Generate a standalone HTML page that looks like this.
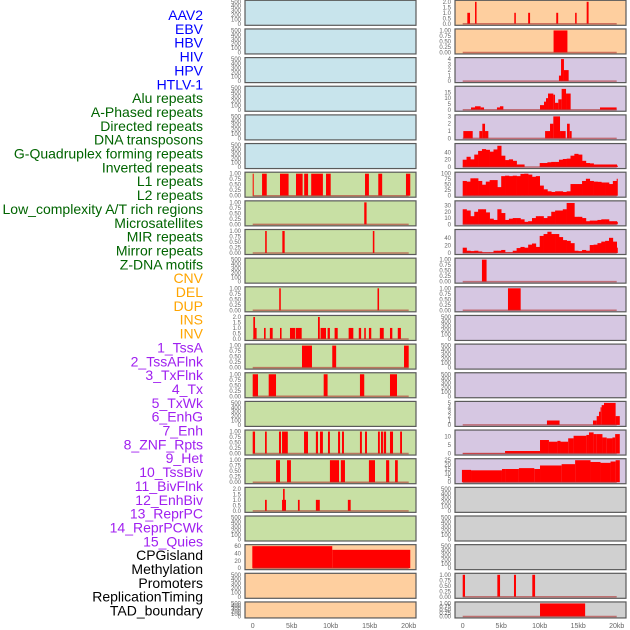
<!DOCTYPE html>
<html><head><meta charset="utf-8">
<style>
html,body{margin:0;padding:0;background:#fff;width:630px;height:630px;overflow:hidden}
svg{display:block}
</style></head>
<body>
<svg id="chart" width="630" height="630" xmlns="http://www.w3.org/2000/svg" font-family="Liberation Sans, sans-serif"></svg>
<script>
// ---------- data ----------
const trackLabels = ["AAV2","EBV","HBV","HIV","HPV","HTLV-1","Alu repeats","A-Phased repeats","Directed repeats","DNA transposons","G-Quadruplex forming repeats","Inverted repeats","L1 repeats","L2 repeats","Low_complexity A/T rich regions","Microsatellites","MIR repeats","Mirror repeats","Z-DNA motifs","CNV","DEL","DUP","INS","INV","1_TssA","2_TssAFlnk","3_TxFlnk","4_Tx","5_TxWk","6_EnhG","7_Enh","8_ZNF_Rpts","9_Het","10_TssBiv","11_BivFlnk","12_EnhBiv","13_ReprPC","14_ReprPCWk","15_Quies","CPGisland","Methylation","Promoters","ReplicationTiming","TAD_boundary"];
const labelGroups = ["v","v","v","v","v","v","r","r","r","r","r","r","r","r","r","r","r","r","r","c","c","c","c","c","s","s","s","s","s","s","s","s","s","s","s","s","s","s","s","k","k","k","k","k"];
const xTickLabels = ["0","5kb","10kb","15kb","20kb"];
const xTickValues = [0,5,10,15,20];

// segments [startKb, endKb, value]
const segL6 = [[0,0.13,1],[1.2,1.8,1],[3.5,4.6,1],[5.55,6.4,1],[6.6,7.1,1],[7.5,9.0,1],[9.4,10.0,1],[14.4,14.9,1],[16.1,16.6,1],[19.65,20.2,1]];
const segL7 = [[14.3,14.6,1]];
const segL8 = [[1.6,1.8,1],[3.8,4.1,1],[15.4,15.6,1]];
const segL10 = [[3.4,3.6,1],[16.0,16.2,1]];
const segL11 = [[0.08,0.3,2],[0.3,0.5,1],[1.45,1.66,1],[2.2,2.56,1],[3.5,3.7,1],[4.78,5.47,1],[5.55,6.28,1],[8.37,8.6,2],[8.7,9.4,1],[9.6,9.9,1],[10.5,10.9,1],[12.3,12.9,1],[13.6,13.9,1],[14.3,14.5,1],[14.9,15.2,1],[16.3,16.8,1],[17.6,17.9,1],[18.6,19.0,1]];
const segL12 = [[6.32,7.6,1],[10.2,10.7,1],[19.4,20.0,1]];
const segL13 = [[0,0.68,1],[2.05,2.99,1],[9.1,9.6,1],[13.75,14.3,1],[17.6,18.5,1]];
const segL15 = [[0,0.3,1],[1.58,1.8,1],[3.37,3.63,1],[3.76,4.5,1],[6.58,7.09,1],[8.1,8.37,1],[8.63,9.0,1],[9.65,9.9,1],[10.94,11.2,1],[11.45,11.7,1],[13.75,14.0,1],[14.4,14.65,1],[16.06,16.3,1],[16.45,16.7,1],[16.8,17.1,1],[17.6,17.99,1],[18.9,19.14,1]];
const segL16 = [[2.99,3.5,1],[4.4,4.9,1],[9.9,11.07,1],[11.3,11.83,1],[14.9,15.68,1],[17.1,17.5,1],[18.25,18.6,1]];
const segL17 = [[1.58,1.8,1],[3.76,4.27,1],[3.89,4.1,2],[5.8,6.02,1],[8.1,8.6,1],[12.2,12.56,1]];
const segL19 = [[-0.05,10.2,60],[10.2,20.2,50]];

const segR0 = [[0.6,0.95,1],[1.6,1.8,2],[6.7,6.9,1],[8.5,8.75,1],[12.15,12.4,1],[14.6,14.8,1],[16.1,16.35,2]];
const segR1 = [[11.8,13.6,1]];
const segR2 = [[12.5,12.85,1],[12.77,13.15,4],[13.15,13.76,2]];
const segR3 = [[1.08,1.6,2],[1.6,2.33,3],[2.33,2.77,2],[4.45,4.84,2],[4.84,5.28,3],[10.04,10.56,4],[10.56,10.82,7],[10.82,11.08,10],[11.08,11.77,14],[11.77,11.99,13],[11.99,12.42,6],[12.42,12.85,9],[12.85,13.42,18],[13.42,14.02,14],[17.83,19.99,2]];
const segR4 = [[0.08,1.3,1],[2.16,2.55,1],[2.55,2.9,2],[2.9,3.33,1],[10.7,11.34,1],[11.34,11.77,2],[11.77,12.64,3],[12.64,13.37,1],[13.55,13.9,2],[13.9,14.15,1]];
const binsR5 = [20,28,21,34,44,49,47,42,48,58,31,19,21,17,7,7,0,0,0,0,11,11,13,14,14,20,22,23,31,36,34,17,11,10,7,7,7,7,7,7,4];
const binsR6 = [67,64,79,79,67,50,64,71,71,39,89,91,89,91,89,99,100,96,86,89,46,29,20,17,20,20,17,20,53,53,53,67,77,67,64,63,60,60,53,67,77];
const binsR7 = [24,22,13,20,24,24,19,9,7,24,18,7,9,10,10,8,4,5,10,13,13,10,13,20,22,22,24,34,34,12,12,10,5,6,6,7,8,8,5,5,4];
const binsR8 = [14,6,5,6,4,2,2,2,6,6,8,2,2,6,13,16,14,22,25,16,45,50,56,50,50,42,34,32,26,6,5,8,6,21,22,26,30,32,40,30,14];
const segR9 = [[2.5,3.1,1]];
const segR10 = [[5.88,7.53,1]];
const segR14 = [[10.94,12.58,1],[16.92,17.4,1],[17.4,17.7,2],[17.7,17.9,3],[17.9,18.05,4],[18.05,18.35,4.5],[18.35,19.86,5],[19.86,20.4,2]];
const segR15 = [[0,5.5,0.3],[5.5,10.04,1.5],[10.04,11.2,8],[11.2,12.3,7],[12.3,12.7,7.5],[12.7,13.7,7],[13.7,14.4,9],[14.4,16.06,10.5],[16.06,16.4,11],[16.4,17.0,12.5],[17.0,17.4,11.5],[17.4,18.15,11.5],[18.15,18.7,9.5],[18.7,19.45,9],[19.45,19.8,9.5],[19.8,20.4,11.5]];
const segR16 = [[-0.1,1.08,14],[1.08,5.1,13.5],[5.1,5.5,15],[5.5,7.3,15],[7.3,9.3,16],[9.3,10.04,15],[10.04,12.85,19],[12.85,14.6,20.5],[14.6,16.6,25],[16.6,17.9,23],[17.9,19.2,22],[19.2,19.86,23.5],[19.86,20.4,25]];
const segR20 = [[0,0.3,1],[4.5,4.85,1],[6.66,6.92,1],[9.04,9.4,1]];
const segR21 = [[10.04,15.9,1]];

const ticks500 = [0,100,200,300,400,500];
const ticksUnit = [0,0.25,0.5,0.75,1];
const ticksTwo = [0,0.5,1,1.5,2];
const ticksCpg = [0,20,40,60];
const ticksR2 = [0,1,2,3,4];
const ticksR3 = [0,5,10,15];
const ticksR4 = [0,1,2,3];
const ticksR5 = [0,20,40];
const ticksR6 = [0,25,50,75,100];
const ticksR7 = [0,10,20,30];
const ticksR8 = [0,20,40];
const ticksR14 = [0,1,2,3,4,5];
const ticksR15 = [0,5,10];
const ticksR16 = [0,5,10,15,20,25];

// column config: [name, bg, data, kind, ticks, ymax, decimals]
const leftCol = [
 ["blue",null,null,ticks500,500,0],["blue",null,null,ticks500,500,0],["blue",null,null,ticks500,500,0],
 ["blue",null,null,ticks500,500,0],["blue",null,null,ticks500,500,0],["blue",null,null,ticks500,500,0],
 ["green",segL6,"seg",ticksUnit,1,2],["green",segL7,"seg",ticksUnit,1,2],["green",segL8,"seg",ticksUnit,1,2],
 ["green",null,null,ticks500,500,0],["green",segL10,"seg",ticksUnit,1,2],["green",segL11,"seg",ticksTwo,2,1],
 ["green",segL12,"seg",ticksUnit,1,2],["green",segL13,"seg",ticksUnit,1,2],["green",null,null,ticks500,500,0],
 ["green",segL15,"seg",ticksUnit,1,2],["green",segL16,"seg",ticksUnit,1,2],["green",segL17,"seg",ticksTwo,2,1],
 ["green",null,null,ticks500,500,0],["orange",segL19,"seg",ticksCpg,60,0],["orange",null,null,ticks500,500,0],
 ["orange",null,null,ticks500,500,0]
];
const rightCol = [
 ["orange",segR0,"seg",ticksTwo,2,1],["orange",segR1,"seg",ticksUnit,1,2],["purple",segR2,"seg",ticksR2,4,0],
 ["purple",segR3,"seg",ticksR3,19,0],["purple",segR4,"seg",ticksR4,3,0],["purple",binsR5,"bin",ticksR5,60,0],
 ["purple",binsR6,"bin",ticksR6,100,0],["purple",binsR7,"bin",ticksR7,35,0],["purple",binsR8,"bin",ticksR8,58,0],
 ["purple",segR9,"seg",ticksUnit,1,2],["purple",segR10,"seg",ticksUnit,1,2],["purple",null,null,ticks500,500,0],
 ["purple",null,null,ticks500,500,0],["purple",null,null,ticks500,500,0],["purple",segR14,"seg",ticksR14,5,0],
 ["purple",segR15,"seg",ticksR15,13,0],["purple",segR16,"seg",ticksR16,25,0],["gray",null,null,ticks500,500,0],
 ["gray",null,null,ticks500,500,0],["gray",null,null,ticks500,500,0],["gray",segR20,"seg",ticksUnit,1,2],
 ["gray",segR21,"seg",ticksUnit,1,2]
];

// ---------- drawing ----------
const NS = "http://www.w3.org/2000/svg";
const svg = document.getElementById("chart");
const bgColors = {blue:"#c8e4ec",green:"#c8e0a4",orange:"#fecf9f",purple:"#d6c7e2",gray:"#d0d0d0"};
const labelColors = {v:"#0000ff",r:"#006400",c:"#ffa500",s:"#a020f0",k:"#000000"};
function mk(tag, attrs){const e=document.createElementNS(NS,tag);for(const k in attrs)e.setAttribute(k,attrs[k]);return e;}

// labels
trackLabels.forEach((t,i)=>{
  const el = mk("text",{x:203,y:15+i*13.85+5,"text-anchor":"end","font-size":"14",fill:labelColors[labelGroups[i]]});
  el.textContent = t;
  
  
  svg.appendChild(el);
});

function panelTop(i){return 0.3+i*28.65;}
function panelH(i){return i===21?16:25;}

function drawColumn(col, left, x0, scale, colName){
  col.forEach((p,i)=>{
    const [bg,data,kind,ticks,ymax,dec]=p;
    const top=panelTop(i), h=panelH(i);
    const g = mk("g",{});
    
    
    svg.appendChild(g);
    g.appendChild(mk("rect",{x:left,y:top,width:171,height:h,fill:bgColors[bg],stroke:"#5a5a5a","stroke-width":1.2}));
    const yb = top+h-1.5, yt = top+1.5;
    const yS = v => yb - (v/ymax)*(yb-yt);
    const xS = kb => x0 + kb*scale;
    // ticks
    ticks.forEach(t=>{
      const tl = mk("text",{x:left-4,y:yS(t)+2,"text-anchor":"end","font-size":"6",fill:"#666"});
      tl.textContent = t.toFixed(dec);
      
      
      g.appendChild(tl);
    });
    if(!data) return;
    if(kind==="seg"){
      data.forEach(s=>{
        const r = mk("rect",{x:xS(s[0]),y:yS(s[2]),width:Math.max(0.8,(s[1]-s[0])*scale),height:yb-yS(s[2]),fill:"#ff0000"});
        
        
        g.appendChild(r);
      });
    } else {
      data.forEach((v,j)=>{
        const k0=j*0.5, k1=Math.min(20.1,(j+1)*0.5);
        const r = mk("rect",{x:xS(k0),y:yS(v),width:(k1-k0)*scale+0.3,height:yb-yS(v),fill:"#ff0000"});
        
        
        g.appendChild(r);
      });
    }
    const bl = mk("line",{x1:xS(0),x2:xS(20),y1:yb,y2:yb,stroke:"#b03030","stroke-opacity":0.6,"stroke-width":1.5});
    
    
    g.appendChild(bl);
  });
  xTickValues.forEach((v,i)=>{
    const t = mk("text",{x:x0+v*scale,y:628,"text-anchor":"middle","font-size":"7",fill:"#666"});
    t.textContent = xTickLabels[i];
    
    
    svg.appendChild(t);
  });
}
drawColumn(leftCol, 245, 252.7, 7.8, "left");
drawColumn(rightCol, 455, 462.7, 7.7, "right");
</script>
</body></html>
